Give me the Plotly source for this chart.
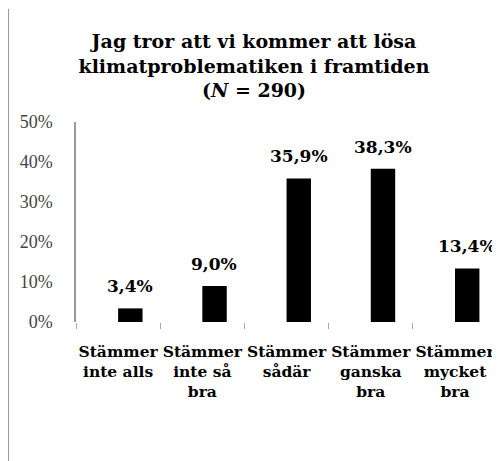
import plotly.graph_objects as go

categories = ["Stämmer<br>inte alls", "Stämmer<br>inte så<br>bra", "Stämmer<br>sådär",
              "Stämmer<br>ganska<br>bra", "Stämmer<br>mycket<br>bra"]
values = [3.4, 9.0, 35.9, 38.3, 13.4]
value_labels = ["3,4%", "9,0%", "35,9%", "38,3%", "13,4%"]
y_ticks = [0, 10, 20, 30, 40, 50]
y_tick_labels = ["0%", "10%", "20%", "30%", "40%", "50%"]

SERIF = "Liberation Serif"
BOLD = "DejaVu Serif"

fig = go.Figure()
fig.add_trace(go.Bar(
    x=categories, y=values,
    marker=dict(color="black", line=dict(width=0)),
    width=0.29, offset=0,
    hoverinfo="skip",
))

for c, v, t in zip(categories, values, value_labels):
    fig.add_annotation(x=c, y=v, text=f"<b>{t}</b>", showarrow=False,
                       yanchor="bottom", xanchor="center", xshift=12, yshift=10,
                       font=dict(family=BOLD, size=17, color="black"))

fig.update_layout(
    width=500, height=461,
    margin=dict(l=68, r=10, t=114, b=147, autoexpand=False),
    paper_bgcolor="white", plot_bgcolor="white",
    showlegend=False,
    font=dict(family=SERIF),
    title=dict(
        text="<b>Jag tror att vi kommer att lösa<br>klimatproblematiken i framtiden<br>(<i>N</i> = 290)</b>",
        x=0.492, xref="container", xanchor="center",
        y=1 - 40 / 461, yref="container", yanchor="top",
        font=dict(family=BOLD, size=19, color="black"),
    ),
    xaxis=dict(
        type="category", tickson="boundaries", ticks="outside", ticklen=6,
        tickcolor="#aaaaaa", tickwidth=1, showline=False, showgrid=False,
        tickfont=dict(family=BOLD, size=15.5, color="black"),
        tickangle=0,
        ticklabelstandoff=18, automargin=False,
        tickvals=categories,
        ticktext=[f"<b>{c}</b>" for c in categories],
    ),
    yaxis=dict(
        range=[0, 50], tickvals=y_ticks, ticktext=y_tick_labels,
        showgrid=False, zeroline=False, showline=True, linecolor="#999999",
        linewidth=1.5, ticks="", ticklabelstandoff=18, automargin=False,
        tickfont=dict(family=SERIF, size=18, color="#444444"),
    ),
    shapes=[dict(type="line", xref="paper", yref="paper",
                 x0=(0 - 68) / 422, x1=(0 - 68) / 422,
                 y0=1 + (114 - 1) / 200, y1=(314 - 470) / 200,
                 line=dict(color="#999999", width=2))],
)

fig.write_html("out.html")
